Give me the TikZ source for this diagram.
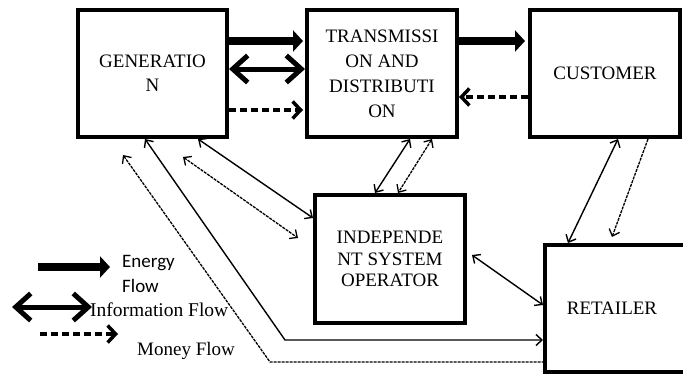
\documentclass[tikz,border=0pt]{standalone}
\usepackage{fontspec}
\setmainfont{Liberation Serif}
\newfontfamily\legendsans{Carlito}
\usetikzlibrary{arrows.meta,calc}
\begin{document}
\begin{tikzpicture}[x=1pt,y=-1pt,
  box/.style={draw,line width=4pt,inner sep=0pt,minimum width=150pt,minimum height=127pt,align=center,font=\fontsize{19}{24}\selectfont},
  energy/.style={line width=8pt,-{Triangle[length=10pt,width=21pt]}},
  info/.style={line width=5pt,{Straight Barb[length=15pt,width=27pt]}-{Straight Barb[length=15pt,width=27pt]}},
  money/.style={line width=3.5pt,dash pattern=on 7pt off 4pt,-{Straight Barb[length=8pt,width=17pt]}},
  thin/.style={line width=1.4pt},
  thindash/.style={line width=1.3pt,dash pattern=on 3pt off 1pt},
  both/.style={{Straight Barb[length=6pt,width=11pt]}-{Straight Barb[length=6pt,width=11pt]}},
  tip/.style={-{Straight Barb[length=6pt,width=11pt]}},
  startip/.style={{Straight Barb[length=6pt,width=11pt]}-},
  legtext/.style={inner sep=0pt,anchor=base west,font=\fontsize{19}{25}\selectfont}
]
\useasboundingbox (0,0) rectangle (683,375);
\clip (0,0) rectangle (683,375);

% boxes
\node[box,minimum width=149pt] (gen) at (152.5,73.5) {GENERATIO\\N};
\node[box,font=\fontsize{19}{25}\selectfont] (td) at (382,73.5) {TRANSMISSI\\ON AND\\DISTRIBUTI\\ON};
\node[box] (cust) at (605,73.5) {CUSTOMER};
\node[box,minimum height=128pt,font=\fontsize{19}{21.5}\selectfont] (iso) at (390,259) {INDEPENDE\\NT SYSTEM\\OPERATOR};
\node[box] (ret) at (620,308.5) {\hspace*{-16pt}RETAILER};

% thick flows
\draw[energy] ([yshift=32.5pt]gen.east) -- ([yshift=32.5pt,xshift=-2pt]td.west);
\draw[info] ([yshift=4.5pt]gen.east) -- ([yshift=4.5pt]td.west);
\draw[money] ([yshift=-36.5pt]gen.east) -- ([yshift=-36.5pt,xshift=-2pt]td.west);
\draw[energy] ([yshift=32.5pt]td.east) -- ([yshift=32.5pt,xshift=-3pt]cust.west);
\draw[money] ([yshift=-23.5pt]cust.west) -- ([yshift=-23.5pt]td.east);

% thin connectors
\draw[thin,both] ([xshift=28pt]td.south) -- ([xshift=-15pt]iso.north);
\draw[thindash,both] ([xshift=50pt]td.south) -- ([xshift=8pt]iso.north);
\draw[thin,both] ([xshift=45.5pt]gen.south) -- ([yshift=41pt]iso.west);
\draw[thindash,both] ([xshift=30.5pt,yshift=-18pt]gen.south) -- ([xshift=-15pt,yshift=21pt]iso.west);
\draw[thin,both] ([xshift=13pt]cust.south) -- ([xshift=-52pt]ret.north);
\draw[thindash,tip] ([xshift=43pt]cust.south) -- ([xshift=-8pt,yshift=6pt]ret.north);
\draw[thin,both] ([xshift=5pt,yshift=4pt]iso.east) -- ([yshift=3.5pt]ret.west);
\coordinate (c1) at (285,340);
\coordinate (c2) at (270,362);
\draw[thin,both] ([xshift=-7.5pt]gen.south) -- (c1) -- ([yshift=-31.5pt]ret.west);
\draw[thindash,startip] ([xshift=-29.5pt,yshift=-16pt]gen.south) -- (c2) -- ([yshift=-53.5pt]ret.west);

% legend
\coordinate (le1) at (38,267);
\coordinate (le2) at (110,267);
\coordinate (li1) at (12,307);
\coordinate (li2) at (92,307);
\coordinate (lm1) at (40,334);
\coordinate (lm2) at (118,334);
\draw[energy] (le1) -- (le2);
\draw[info] (li1) -- (li2);
\draw[money] (lm1) -- (lm2);
\node[legtext,font=\legendsans\fontsize{19}{25}\selectfont] (lE1) at (122,267) {Energy};
\node[legtext,font=\legendsans\fontsize{19}{25}\selectfont] (lE2) at (122,292) {Flow};
\node[legtext,font=\fontsize{19.5}{25}\selectfont] (lI) at (90,316) {Information Flow};
\node[legtext] (lM) at (137,355) {Money Flow};
\end{tikzpicture}
\end{document}
